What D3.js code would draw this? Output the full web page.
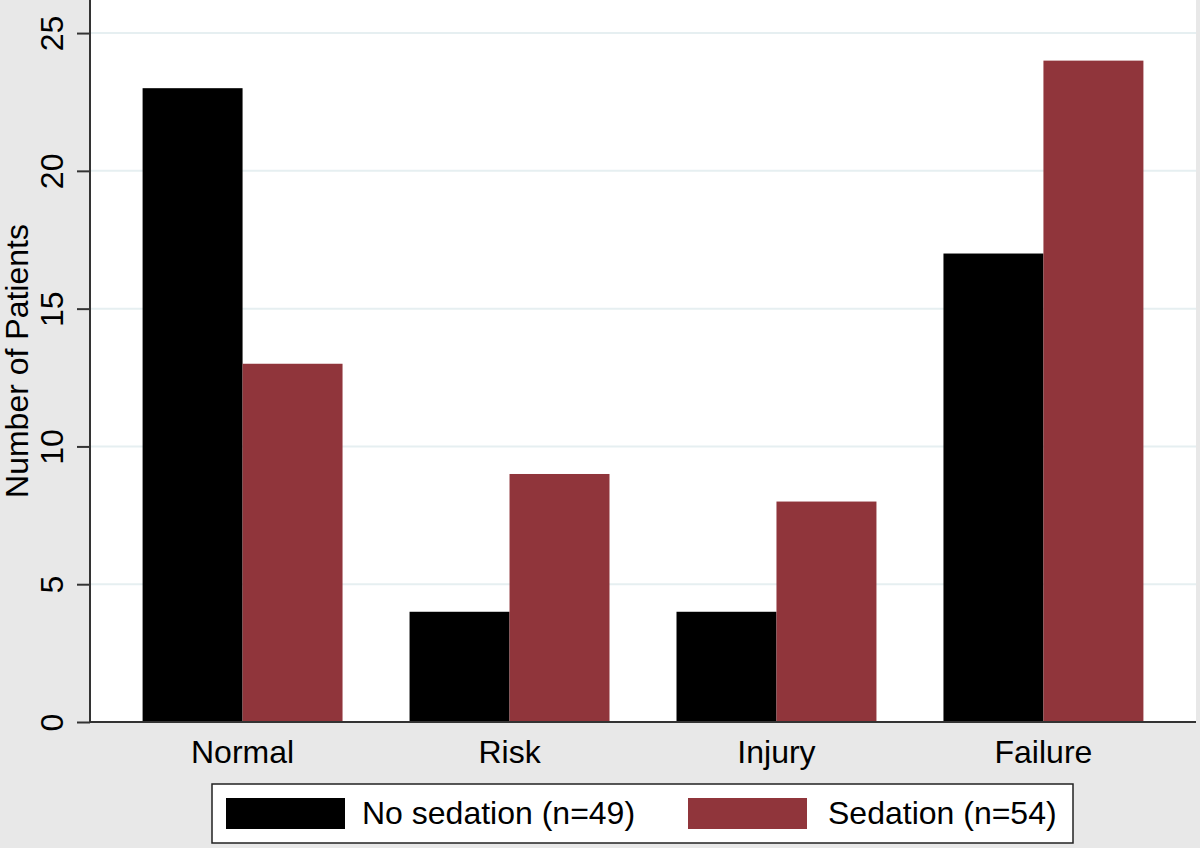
<!DOCTYPE html>
<html>
<head>
<meta charset="utf-8">
<script src="https://cdn.jsdelivr.net/npm/d3@7"></script>
<style>
  html, body { margin: 0; padding: 0; background: #e8e8e8; }
  svg { display: block; font-family: "Liberation Sans", Arial, sans-serif; }
</style>
</head>
<body>
<div id="chart"></div>
<script>
// Data
const categories = ["Normal", "Risk", "Injury", "Failure"];
const seriesNames = ["No sedation (n=49)", "Sedation (n=54)"];
const noSedation = [23, 4, 4, 17];
const sedation = [13, 9, 8, 24];
const yTicks = [0, 5, 10, 15, 20, 25];

const width = 1200, height = 848;
const margin = { top: 0, right: 4, bottom: 126, left: 90 };
const colors = ["#000000", "#90353b"];
const fontSize = 32;

const svg = d3.select("#chart").append("svg")
    .attr("width", width)
    .attr("height", height);

svg.append("rect")
    .attr("width", width).attr("height", height)
    .attr("fill", "#e8e8e8");

const plotW = width - margin.left - margin.right;
const plotH = height - margin.top - margin.bottom;

const x = d3.scaleBand()
    .domain(categories)
    .range([margin.left, margin.left + plotW])
    .paddingInner(0.251)
    .paddingOuter(0.197);

const xInner = d3.scaleBand()
    .domain(seriesNames)
    .range([0, x.bandwidth()]);

const y = d3.scaleLinear()
    .domain([0, 26.2])
    .range([margin.top + plotH, margin.top]);

// Plot region
svg.append("rect")
    .attr("x", margin.left).attr("y", margin.top)
    .attr("width", plotW).attr("height", plotH)
    .attr("fill", "#ffffff");

// Gridlines
svg.append("g")
    .selectAll("line")
    .data(yTicks.filter(d => d > 0))
    .enter().append("line")
    .attr("x1", margin.left).attr("x2", margin.left + plotW)
    .attr("y1", d => y(d)).attr("y2", d => y(d))
    .attr("stroke", "#e6eff1")
    .attr("stroke-width", 2);

// Bars
const rows = categories.map((c, i) => ({ cat: c, values: [noSedation[i], sedation[i]] }));

svg.append("g")
    .selectAll("g")
    .data(rows)
    .enter().append("g")
    .attr("transform", d => "translate(" + x(d.cat) + ",0)")
    .selectAll("rect")
    .data(d => d.values.map((v, j) => ({ name: seriesNames[j], value: v, color: colors[j] })))
    .enter().append("rect")
    .attr("x", d => xInner(d.name))
    .attr("width", xInner.bandwidth())
    .attr("y", d => y(d.value))
    .attr("height", d => y(0) - y(d.value))
    .attr("fill", d => d.color);

// Y axis
const yAxis = svg.append("g")
    .attr("transform", "translate(" + margin.left + ",0)")
    .call(d3.axisLeft(y).tickValues(yTicks).tickSize(13).tickSizeOuter(0).tickPadding(0));
yAxis.select(".domain")
    .attr("stroke", "#333333").attr("stroke-width", 2)
    .attr("d", "M0," + margin.top + "V" + (margin.top + plotH));
yAxis.selectAll(".tick line").attr("stroke", "#333333").attr("stroke-width", 2);
yAxis.selectAll(".tick text")
    .attr("x", 0).attr("dy", null)
    .attr("font-size", fontSize)
    .attr("font-family", "Liberation Sans, Arial, sans-serif")
    .attr("fill", "#000")
    .attr("text-anchor", "middle")
    .attr("transform", "translate(-27,0) rotate(-90)");

// X axis line
svg.append("line")
    .attr("x1", margin.left).attr("x2", margin.left + plotW)
    .attr("y1", y(0)).attr("y2", y(0))
    .attr("stroke", "#333333").attr("stroke-width", 2);

// Category labels
svg.append("g")
    .selectAll("text")
    .data(categories)
    .enter().append("text")
    .attr("x", d => x(d) + x.bandwidth() / 2)
    .attr("y", y(0) + 41)
    .attr("text-anchor", "middle")
    .attr("font-size", fontSize)
    .text(d => d);

// Y axis title
svg.append("text")
    .attr("transform", "translate(28," + (margin.top + plotH / 2) + ") rotate(-90)")
    .attr("text-anchor", "middle")
    .attr("font-size", fontSize)
    .text("Number of Patients");

// Legend
const legend = svg.append("g");
legend.append("rect")
    .attr("x", 212).attr("y", 784)
    .attr("width", 861).attr("height", 59)
    .attr("fill", "#ffffff")
    .attr("stroke", "#222222").attr("stroke-width", 1.5);

const legendX = [226, 688];
const items = legend.selectAll("g.item")
    .data(seriesNames)
    .enter().append("g")
    .attr("class", "item")
    .attr("transform", (d, i) => "translate(" + legendX[i] + ",798)");
items.append("rect")
    .attr("width", 119).attr("height", 31)
    .attr("fill", (d, i) => colors[i]);
items.append("text")
    .attr("x", (d, i) => i === 0 ? 136 : 140)
    .attr("y", 26)
    .attr("font-size", fontSize)
    .text(d => d);
</script>
</body>
</html>
